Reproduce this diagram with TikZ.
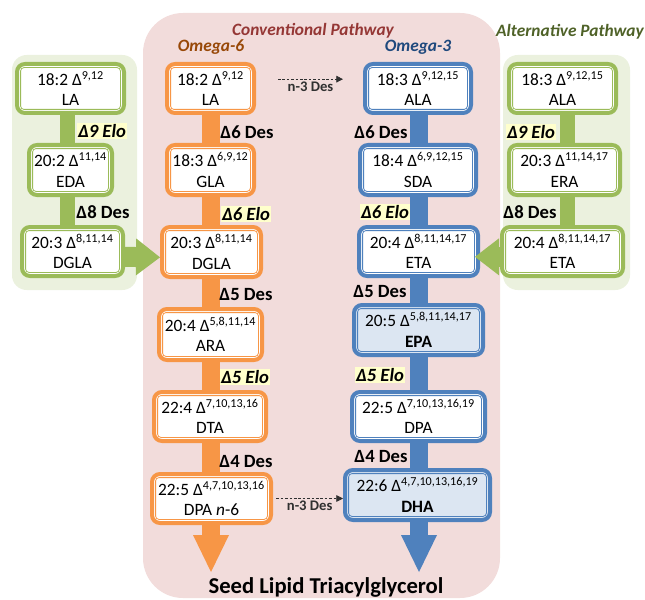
\documentclass[tikz,border=0pt]{standalone}
\usepackage{fontspec}
\setmainfont{Carlito}
\usetikzlibrary{arrows.meta}
\definecolor{or6}{HTML}{F79646}
\definecolor{bl3}{HTML}{4F81BD}
\definecolor{grn}{HTML}{9BBB59}
\definecolor{pinkbg}{HTML}{F2DCDB}
\definecolor{greenbg}{HTML}{EBF1DE}
\definecolor{epafill}{HTML}{DCE6F2}
\definecolor{convred}{HTML}{953735}
\definecolor{om6}{HTML}{984807}
\definecolor{om3}{HTML}{1F497D}
\definecolor{altgrn}{HTML}{4F6228}
\definecolor{hilite}{HTML}{FFFFCC}
\definecolor{dashgray}{HTML}{303030}
\pgfdeclarelayer{bg}\pgfdeclarelayer{mid}\pgfsetlayers{bg,mid,main}
\tikzset{
  acid/.style={draw=#1, line width=3pt, rounded corners=6pt, outer sep=0pt, inner sep=0pt, align=center, font=\fontsize{13}{15.5}\selectfont},
  shaft/.style={draw=#1, line width=13.5pt},
  gshaft/.style={draw=grn, line width=11.25pt},
  bigtip/.style={-{Triangle[width=27pt,length=27.75pt,line width=0pt]}},
  lab/.style={inner sep=0.8pt, font=\bfseries\fontsize{14}{16}\selectfont},
  elo/.style={inner sep=0.8pt, fill=hilite, font=\bfseries\itshape\fontsize{14}{16}\selectfont},
  ttl/.style={font=\bfseries\itshape\fontsize{13}{15}\selectfont},
  dasharr/.style={draw=dashgray, line width=0.6pt, dash pattern=on 2pt off 1.3pt, -{Triangle[length=5pt,width=5pt]}},
  smallab/.style={font=\bfseries\fontsize{11}{12}\selectfont, text=dashgray, inner sep=1pt}
}
\newcommand\acidbox[8]{%
  \node[acid=#6, fill=#7, minimum width={(#4-#2-4)*0.75pt}, minimum height={(#5-#3-4)*0.75pt}] (#1) at ({(#2+#4)/2},{(#3+#5)/2}) {#8};
  \draw[#6, line width=0.6pt, rounded corners=2.5pt] ([shift={(2.7pt,-2.7pt)}]#1.north west) rectangle ([shift={(-2.7pt,2.7pt)}]#1.south east);
}
\newcommand\sps[1]{\textsuperscript{#1}}
\begin{document}
\begin{tikzpicture}[x=0.75pt,y=-0.75pt]
\useasboundingbox (0,0) rectangle (645,599);
% backgrounds
\begin{pgfonlayer}{bg}
  \fill[pinkbg, rounded corners=30pt] (143,13) rectangle (500,598);
  \fill[greenbg, rounded corners=11pt] (12,55) rectangle (137,290);
  \fill[greenbg, rounded corners=11pt] (503,55) rectangle (630,290);
\end{pgfonlayer}
% titles
\node[ttl, text=convred] (tconv) at (313,31) {Conventional Pathway};
\node[ttl, text=om6] (tom6) at (211,47) {Omega-6};
\node[ttl, text=om3] (tom3) at (418,47) {Omega-3};
\node[ttl, text=altgrn] (talt) at (570,32) {Alternative Pathway};
\node[font=\bfseries\fontsize{17}{19}\selectfont] (tseed) at (326,587) {Seed Lipid Triacylglycerol};
% left green
\acidbox{LAg}{15}{62}{126}{115}{grn}{white}{18:2 Δ\sps{9,12}\\LA}
\acidbox{EDAg}{27}{143}{114}{197}{grn}{white}{20:2 Δ\sps{11,14}\\EDA}
\acidbox{DGLAg}{20}{225}{125}{278}{grn}{white}{20:3 Δ\sps{8,11,14}\\DGLA}
% omega-6
\acidbox{LA6}{165}{62}{256}{115}{or6}{white}{18:2 Δ\sps{9,12}\\LA}
\acidbox{GLA6}{165}{143}{256}{197}{or6}{white}{18:3 Δ\sps{6,9,12}\\GLA}
\acidbox{DGLA6}{160}{225}{263}{279}{or6}{white}{20:3 Δ\sps{8,11,14}\\DGLA}
\acidbox{ARA6}{157}{307}{264}{362}{or6}{white}{20:4 Δ\sps{5,8,11,14}\\ARA}
\acidbox{DTA6}{152}{390}{268}{443}{or6}{white}{22:4 Δ\sps{7,10,13,16}\\DTA}
\acidbox{DPA6}{150}{472}{273}{525}{or6}{white}{22:5 Δ\sps{4,7,10,13,16}\\DPA \textit{n}-6}
% omega-3
\acidbox{ALA3}{363}{62}{473}{115}{bl3}{white}{18:3 Δ\sps{9,12,15}\\ALA}
\acidbox{SDA3}{358}{143}{478}{197}{bl3}{white}{18:4 Δ\sps{6,9,12,15}\\SDA}
\acidbox{ETA3}{357}{225}{480}{278}{bl3}{white}{20:4 Δ\sps{8,11,14,17}\\ETA}
\acidbox{EPA3}{352}{303}{485}{357}{bl3}{epafill}{20:5 Δ\sps{5,8,11,14,17}\\\textbf{EPA}}
\acidbox{DPA3}{350}{390}{487}{443}{bl3}{white}{22:5 Δ\sps{7,10,13,16,19}\\DPA}
\acidbox{DHA3}{343}{468}{492}{522}{bl3}{epafill}{22:6 Δ\sps{4,7,10,13,16,19}\\\textbf{DHA}}
% right green
\acidbox{ALAg}{507}{62}{618}{115}{grn}{white}{18:3 Δ\sps{9,12,15}\\ALA}
\acidbox{ERAg}{507}{143}{622}{197}{grn}{white}{20:3 Δ\sps{11,14,17}\\ERA}
\acidbox{ETAg}{500}{225}{625}{278}{grn}{white}{20:4 Δ\sps{8,11,14,17}\\ETA}
% coordinates for shafts
\coordinate (end6) at (211,572);
\coordinate (end3) at (419,572);
\coordinate (gxl) at (67,0);
\coordinate (gxr) at (567,0);
\begin{pgfonlayer}{mid}
  \draw[shaft=or6, bigtip] (LA6.south -| end6) -- (end6);
  \draw[shaft=bl3, bigtip] (ALA3.south -| end3) -- (end3);
  \draw[gshaft] (LAg.south -| gxl) -- (DGLAg.north -| gxl);
  \draw[gshaft] (ALAg.south -| gxr) -- (ETAg.north -| gxr);
  \draw[draw=grn, line width=15pt, -{Triangle[width=27.75pt,length=18pt,line width=0pt]}] ([yshift=-4pt]DGLAg.east) -- ([xshift=-1.5pt,yshift=-4pt]DGLA6.west);
\end{pgfonlayer}
\draw[draw=grn, line width=15pt, -{Triangle[width=27.75pt,length=18pt,line width=0pt]}] ([xshift=-1.5pt,yshift=-4pt]ETAg.west) -- ([xshift=-2.25pt,yshift=-4pt]ETA3.east);
% enzyme labels
\node[elo] (l1) at (102,131) {Δ9 Elo};
\node[lab] (l2) at (103,212) {Δ8 Des};
\node[lab] (o1) at (247,132) {Δ6 Des};
\node[elo] (o2) at (246,214) {Δ6 Elo};
\node[lab] (o3) at (246,295) {Δ5 Des};
\node[elo] (o4) at (245,377) {Δ5 Elo};
\node[lab] (o5) at (246,462) {Δ4 Des};
\node[lab] (b1) at (381,132) {Δ6 Des};
\node[elo] (b2) at (385,212) {Δ6 Elo};
\node[lab] (b3) at (380,292) {Δ5 Des};
\node[elo] (b4) at (380,375) {Δ5 Elo};
\node[lab] (b5) at (381,457) {Δ4 Des};
\node[elo] (r1) at (531,132) {Δ9 Elo};
\node[lab] (r2) at (530,212) {Δ8 Des};
% dashed n-3 desaturase arrows
\draw[dasharr] ([xshift=18pt,yshift=7pt]LA6.east) -- ([xshift=-16.5pt,yshift=7pt]ALA3.west) node[midway, below=0.5pt, smallab] (n3a) {n-3 Des};
\draw[dasharr] ([xshift=4pt]DPA6.east) -- ([xshift=-1.5pt]DHA3.west |- DPA6.east) node[midway, below=0.5pt, smallab] (n3b) {n-3 Des};
\end{tikzpicture}
\end{document}
